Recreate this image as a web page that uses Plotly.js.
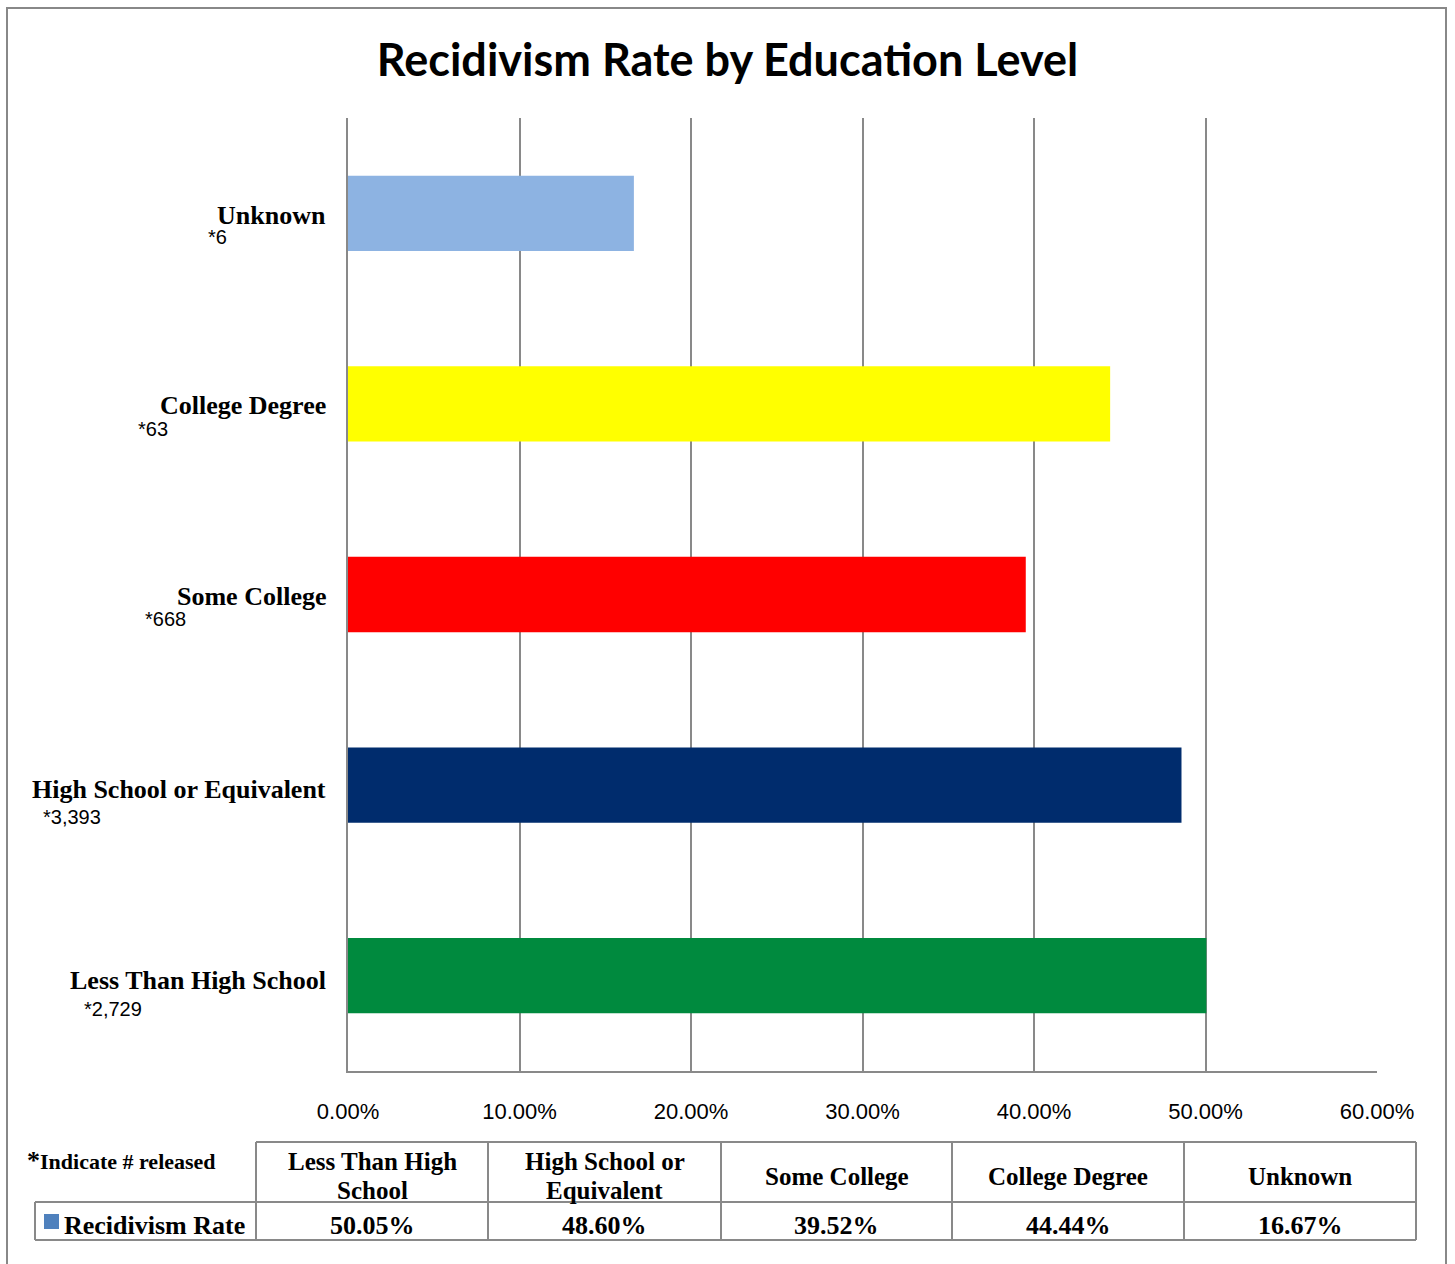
<!DOCTYPE html>
<html><head><meta charset="utf-8">
<script src="https://cdn.plot.ly/plotly-3.0.1.min.js"></script>
<style>html,body{margin:0;padding:0;background:#fff}#chart{width:1455px;height:1264px}</style>
</head><body><div id="chart"></div>
<script>
// ---- data ----
const categories = ["Less Than High School","High School or Equivalent","Some College","College Degree","Unknown"];
const releasedCounts = ["*2,729","*3,393","*668","*63","*6"];
const recidivismRates = [0.5005,0.4860,0.3952,0.4444,0.1667];
const tableHeaders = ["Less Than High<br>School","High School or<br>Equivalent","Some College","College Degree","Unknown"];
const barColors = ["#008A3E","#002C6D","#FF0000","#FFFF00","#8DB3E2"];
const seriesName = "Recidivism Rate";
const footnoteText = "Indicate # released";
const chartTitle = "Recidivism Rate by Education Level";

// ---- layout constants (pixels) ----
const W = 1455, H = 1264;
const L = 348, R = 1377, T = 118, B = 1071;
const px = x => (x - L) / (R - L);
const py = y => (B - y) / (B - T);
const countLeftPx = [82, 41, 143, 136, 206];
const labelShift = [-5, -4, -2, -2, -2];
const countShift = [-33, -32, -24, -25, -24];
const colEdges = [256, 488, 721, 952, 1184, 1416];
const gridGray = "#898989";
const serif = "Liberation Serif";

const tableValues = recidivismRates.map(v => (v * 100).toFixed(2) + "%");

const trace = {
  type: "bar",
  orientation: "h",
  y: categories,
  x: recidivismRates,
  width: 0.395,
  marker: { color: barColors, line: { width: 0 } },
  hoverinfo: "skip",
  showlegend: false
};

const shapes = [];
const line = (x0, y0, x1, y1, w) => shapes.push({
  type: "line", xref: "paper", yref: "paper",
  x0: px(x0), x1: px(x1), y0: py(y0), y1: py(y1),
  line: { color: gridGray, width: w || 2 }
});
// outer frame
shapes.push({ type: "rect", xref: "paper", yref: "paper",
  x0: px(7), x1: px(1446), y0: py(8), y1: py(1300),
  line: { color: "#888", width: 2 }, fillcolor: "rgba(0,0,0,0)" });
// data table grid
line(colEdges[0], 1142, colEdges[5], 1142);
line(35, 1202, colEdges[5], 1202);
line(35, 1240, colEdges[5], 1240);
line(35, 1202, 35, 1240);
colEdges.forEach(x => line(x, 1142, x, 1240));
// legend key
shapes.push({ type: "rect", xref: "paper", yref: "paper",
  x0: px(44), x1: px(59), y0: py(1229), y1: py(1214),
  fillcolor: "#4F81BD", line: { width: 0 } });

const annotations = [];
// category labels
categories.forEach((c, i) => {
  annotations.push({ xref: "paper", yref: "y", x: px(328), y: c, xanchor: "right", yanchor: "middle",
    yshift: labelShift[i], text: "<b>" + c + "</b>", showarrow: false,
    font: { family: serif, size: 26, color: "#000" } });
  annotations.push({ xref: "paper", yref: "y", x: px(countLeftPx[i]), y: c, xanchor: "left", yanchor: "middle",
    yshift: countShift[i], text: releasedCounts[i], showarrow: false,
    font: { family: "Liberation Sans", size: 20, color: "#000" } });
});
// table headers & values
tableHeaders.forEach((h, i) => {
  const cx = (colEdges[i] + colEdges[i + 1]) / 2;
  const lines = h.split("<br>");
  const ys = lines.length === 2 ? [1161, 1190] : [1176];
  lines.forEach((t, k) => {
    annotations.push({ xref: "paper", yref: "paper", x: px(cx), y: py(ys[k]), xanchor: "center", yanchor: "middle",
      text: "<b>" + t + "</b>", showarrow: false, align: "center",
      font: { family: serif, size: 25, color: "#000" } });
  });
  annotations.push({ xref: "paper", yref: "paper", x: px(cx), y: py(1225), xanchor: "center", yanchor: "middle",
    text: "<b>" + tableValues[i] + "</b>", showarrow: false,
    font: { family: serif, size: 26, color: "#000" } });
});
annotations.push({ xref: "paper", yref: "paper", x: px(62), y: py(1225), xanchor: "left", yanchor: "middle",
  text: "<b>" + seriesName + "</b>", showarrow: false,
  font: { family: serif, size: 26, color: "#000" } });
annotations.push({ xref: "paper", yref: "paper", x: px(25), y: py(1160), xanchor: "left", yanchor: "middle",
  text: "<b><span style='font-size:26px'>*</span>" + footnoteText + "</b>", showarrow: false,
  font: { family: serif, size: 22, color: "#000" } });

const layout = {
  width: W, height: H,
  margin: { l: L, r: W - R, t: T, b: H - B, pad: 0 },
  paper_bgcolor: "#fff", plot_bgcolor: "#fff",
  title: { text: "<b>" + chartTitle + "</b>", x: 0.5, xref: "container", y: 1 - 60 / H, yref: "container",
    xanchor: "center", yanchor: "middle", font: { family: "Lato", size: 45, color: "#000" } },
  xaxis: { range: [0, 0.6], dtick: 0.1, tick0: 0, tickformat: ".2%", showgrid: true, gridcolor: gridGray, gridwidth: 2,
    zeroline: false, showline: true, linecolor: gridGray, linewidth: 2, ticks: "", ticklabelstandoff: 20,
    tickfont: { family: "Liberation Sans", size: 22, color: "#000" }, fixedrange: true },
  yaxis: { showticklabels: false, showgrid: false, zeroline: false, showline: true, linecolor: gridGray, linewidth: 2,
    ticks: "", fixedrange: true },
  bargap: 0.6,
  shapes: shapes,
  annotations: annotations,
  showlegend: false
};

Plotly.newPlot("chart", [trace], layout, { displayModeBar: false, staticPlot: true });
</script></body></html>
